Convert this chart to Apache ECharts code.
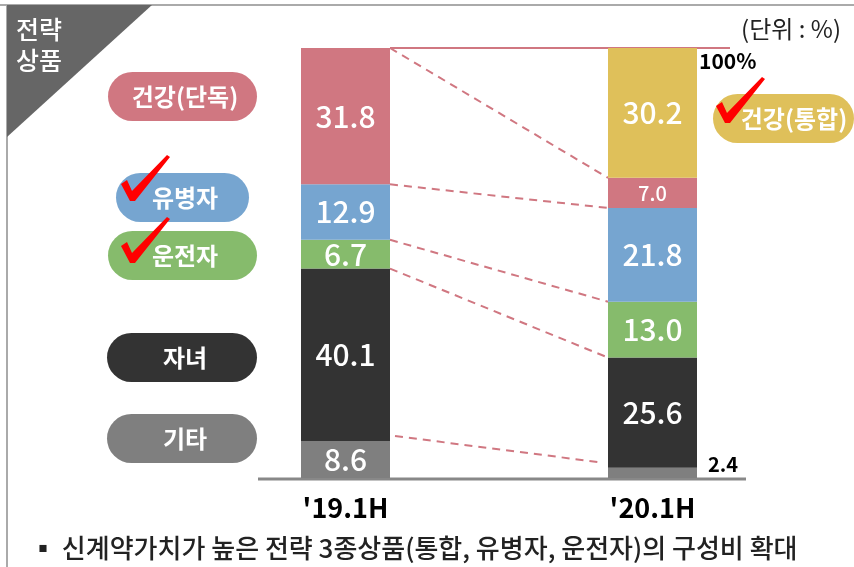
<!DOCTYPE html>
<html>
<head>
<meta charset="utf-8">
<script src="https://cdn.jsdelivr.net/npm/echarts@6/dist/echarts.min.js"></script>
<style>
html, body { margin: 0; padding: 0; background: #fff; }
#chart { width: 854px; height: 567px; }
</style>
</head>
<body>
<div id="chart"></div>
<script>
const categories = ["'19.1H", "'20.1H"]
// stacked bottom -> top
const etcValues = [8.6, 2.4]
const childValues = [40.1, 25.6]
const driverValues = [6.7, 13.0]
const sickValues = [12.9, 21.8]
const healthSingleValues = [31.8, 7.0]
const healthIntegValues = [0, 30.2]

const FONT = '"Noto Sans CJK KR", "Noto Sans", sans-serif'
const BAR_W = 89

const seriesDefs = [
  { name: '기타', data: etcValues, color: '#7f7f7f' },
  { name: '자녀', data: childValues, color: '#333333' },
  { name: '운전자', data: driverValues, color: '#86bb6c' },
  { name: '유병자', data: sickValues, color: '#76a5d0' },
  { name: '건강(단독)', data: healthSingleValues, color: '#d07781' },
  { name: '건강(통합)', data: healthIntegValues, color: '#dfc05a' }
]

// per-item label tweaks (small segments)
const labelOverrides = {
  '기타-1': { position: 'right', distance: 11, offset: [0, -8], color: '#000', fontSize: 20, fontWeight: 'bold' },
  '건강(단독)-1': { fontSize: 20 }
}

const chart = echarts.init(document.getElementById('chart'))

const option = {
  animation: false,
  grid: { left: 192, right: 48, top: 48, bottom: 89 },
  xAxis: {
    type: 'category',
    data: categories,
    axisLine: { show: false },
    axisTick: { show: false },
    axisLabel: { color: '#000', fontSize: 27, fontWeight: 'bold', fontFamily: FONT, margin: 16 }
  },
  yAxis: { type: 'value', min: 0, max: 100, show: false },
  series: seriesDefs.map(s => ({
    name: s.name,
    type: 'bar',
    stack: 'total',
    barWidth: BAR_W,
    itemStyle: { color: s.color },
    label: {
      show: true,
      position: 'inside',
      color: '#fff',
      fontSize: 30,
      fontWeight: 500,
      fontFamily: FONT,
      formatter: p => (p.value ? p.value.toFixed(1) : '')
    },
    data: s.data.map((v, i) => {
      const o = labelOverrides[s.name + '-' + i]
      return o ? { value: v, label: o } : v
    })
  }))
}
chart.setOption(option)

// ---- decorations ----
const px = (ci, v) => chart.convertToPixel({ gridIndex: 0 }, [ci, v])

// cumulative tops of each stacked segment
const cum = [0, 1].map(ci => {
  let acc = 0
  return seriesDefs.map(s => (acc += s.data[ci]))
})

const graphics = []

// frame + corner tag
graphics.push(
  { type: 'line', shape: { x1: 0, y1: 5, x2: 854, y2: 5 }, style: { stroke: '#aaaaaa', lineWidth: 2 } },
  { type: 'line', shape: { x1: 7, y1: 5, x2: 7, y2: 567 }, style: { stroke: '#aaaaaa', lineWidth: 2 } },
  { type: 'polygon', shape: { points: [[7, 5], [152, 5], [7, 137]] }, style: { fill: '#666666' } },
  { type: 'text', x: 16, y: 29, style: { text: '전략', fill: '#fff', font: '500 25px ' + FONT, verticalAlign: 'middle', textVerticalAlign: 'middle' } },
  { type: 'text', x: 16, y: 60, style: { text: '상품', fill: '#fff', font: '500 25px ' + FONT, verticalAlign: 'middle', textVerticalAlign: 'middle' } }
)

// unit
graphics.push({
  type: 'text', x: 841, y: 29,
  style: { text: '(단위 : %)', fill: '#222', font: '24px ' + FONT, align: 'right', textAlign: 'right', verticalAlign: 'middle', textVerticalAlign: 'middle' }
})

// axis base line
const base = px(0, 0)
graphics.push({ type: 'line', shape: { x1: 258, y1: base[1] + 1, x2: 746, y2: base[1] + 1 }, style: { stroke: '#888888', lineWidth: 3 } })

// connectors
const b1Right = px(0, 0)[0] + BAR_W / 2
const b2Left = px(1, 0)[0] - BAR_W / 2
const b2Right = px(1, 0)[0] + BAR_W / 2
const topY = px(0, 100)[1]
graphics.push({ type: 'line', shape: { x1: b1Right, y1: topY, x2: b2Right + 33, y2: topY }, style: { stroke: '#d07781', lineWidth: 2 } })
for (let k = 0; k < 5; k++) {
  const y1 = px(0, Math.min(cum[0][k], 100))[1]
  const y2 = px(1, cum[1][k])[1]
  const inset = k === 0 ? 5 : 0
  graphics.push({
    type: 'line',
    shape: { x1: b1Right + inset, y1: y1 - inset, x2: b2Left - inset, y2: y2 - inset },
    style: { stroke: '#d07781', lineWidth: 2, lineDash: [8, 6] }
  })
}
graphics.push({
  type: 'text', x: b2Right + 2, y: topY + 13,
  style: { text: '100%', fill: '#000', font: 'bold 21px ' + FONT, verticalAlign: 'middle', textVerticalAlign: 'middle' }
})

// pills
const pills = [
  { text: '건강(단독)', color: '#d07781', x: 108, y: 72, w: 149, tx: 185 },
  { text: '유병자', color: '#76a5d0', x: 116, y: 173, w: 133, tx: 185 },
  { text: '운전자', color: '#86bb6c', x: 108, y: 231, w: 149, tx: 185 },
  { text: '자녀', color: '#333333', x: 107, y: 333, w: 150, tx: 185 },
  { text: '기타', color: '#7f7f7f', x: 107, y: 414, w: 150, tx: 185 },
  { text: '건강(통합)', color: '#dfc05a', x: 713, y: 94, w: 141, tx: 794 }
]
pills.forEach(p => {
  graphics.push({ type: 'rect', shape: { x: p.x, y: p.y, width: p.w, height: 49, r: 24.5 }, style: { fill: p.color } })
  graphics.push({
    type: 'text', x: p.tx, y: p.y + 25,
    style: { text: p.text, fill: '#fff', font: 'bold 24px ' + FONT, align: 'center', textAlign: 'center', verticalAlign: 'middle', textVerticalAlign: 'middle' }
  })
})

// check marks
const checkShape = [[-11, -16], [-5, -20], [0, -9], [35, -45], [38, -43], [3, 1], [-2, 1]]
;[[132, 200], [132, 262], [727, 122]].forEach(([cx, cy]) => {
  graphics.push({
    type: 'polygon', z: 10,
    shape: { points: checkShape.map(([dx, dy]) => [cx + dx, cy + dy]) },
    style: { fill: '#ff0000' }
  })
})

// footnote
graphics.push({
  type: 'text', x: 30, y: 548,
  style: { text: '▪ 신계약가치가 높은 전략 3종상품(통합, 유병자, 운전자)의 구성비 확대', fill: '#222', font: '500 26px ' + FONT, verticalAlign: 'middle', textVerticalAlign: 'middle' }
})

chart.setOption({ graphic: graphics })
</script>
</body>
</html>
